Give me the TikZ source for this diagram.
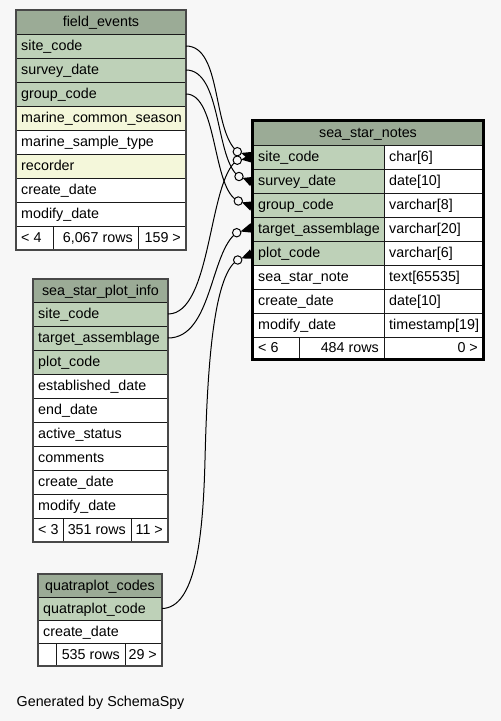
\documentclass[tikz,border=0pt]{standalone}
\usepackage{fontspec}
\setmainfont{Liberation Sans}
\usetikzlibrary{calc}
\definecolor{bg}{HTML}{F7F7F7}
\definecolor{hdr}{HTML}{9BAB96}
\definecolor{pk}{HTML}{BED1B8}
\definecolor{idx}{HTML}{F4F7DA}
\definecolor{grid}{HTML}{1A1A1A}
\tikzset{
  cellbox/.style={draw=grid, line width=0.9pt, rectangle, anchor=north west, inner sep=0pt, outer sep=0pt},
  celltext/.style={inner xsep=5pt, inner ysep=0pt, text height=11pt, text depth=2pt, font=\fontsize{14.3}{16}\selectfont},
  tblborder/.style={draw=grid!80, line width=1.3pt},
  thickborder/.style={draw=black, line width=3pt},
  edge/.style={draw=black, line width=1pt},
  crowfoot/.style={fill=black},
  odotc/.style={draw=black, line width=1pt, fill=bg},
}
\newcommand{\mkL}[7]{\node[cellbox,fill=#6,minimum width=#4pt,minimum height=#5pt] (#1) at (#2,#3) {};\node[celltext,anchor=west] (#1t) at (#1.west) {#7};}
\newcommand{\mkR}[7]{\node[cellbox,fill=#6,minimum width=#4pt,minimum height=#5pt] (#1) at (#2,#3) {};\node[celltext,anchor=east] (#1t) at (#1.east) {#7};}
\newcommand{\mkC}[7]{\node[cellbox,fill=#6,minimum width=#4pt,minimum height=#5pt] (#1) at (#2,#3) {};\node[celltext] (#1t) at (#1.center) {#7};}
\begin{document}
\begin{tikzpicture}[x=1pt,y=-1pt]
\useasboundingbox[fill=bg] (0,0) rectangle (501,721);

% ---------- field_events ----------
\mkC{feh}{16}{10}{170}{24}{hdr}{field\_events}
\mkL{fesite}{16}{34}{170}{24}{pk}{site\_code}
\mkL{fesurvey}{16}{58}{170}{24}{pk}{survey\_date}
\mkL{fegroup}{16}{82}{170}{24}{pk}{group\_code}
\mkL{feseason}{16}{106}{170}{24}{idx}{marine\_common\_season}
\mkL{fetype}{16}{130}{170}{24}{white}{marine\_sample\_type}
\mkL{ferec}{16}{154}{170}{24}{idx}{recorder}
\mkL{fecreate}{16}{178}{170}{24}{white}{create\_date}
\mkL{femodify}{16}{202}{170}{24}{white}{modify\_date}
\mkL{fef1}{16}{226}{37}{24}{white}{< 4}
\mkR{fef2}{53}{226}{85}{24}{white}{6,067 rows}
\mkR{fef3}{138}{226}{48}{24}{white}{159 >}
\draw[tblborder] (feh.north west) rectangle (fef3.south east);

% ---------- sea_star_notes ----------
\mkC{ssnh}{253}{121}{230}{24}{hdr}{sea\_star\_notes}
\mkL{ssnsite}{253}{145}{131}{24}{pk}{site\_code}
\mkL{ssnsitet}{384}{145}{99}{24}{white}{char[6]}
\mkL{ssnsurvey}{253}{169}{131}{24}{pk}{survey\_date}
\mkL{ssnsurveyt}{384}{169}{99}{24}{white}{date[10]}
\mkL{ssngroup}{253}{193}{131}{24}{pk}{group\_code}
\mkL{ssngroupt}{384}{193}{99}{24}{white}{varchar[8]}
\mkL{ssntarget}{253}{217}{131}{24}{pk}{target\_assemblage}
\mkL{ssntargett}{384}{217}{99}{24}{white}{varchar[20]}
\mkL{ssnplot}{253}{241}{131}{24}{pk}{plot\_code}
\mkL{ssnplott}{384}{241}{99}{24}{white}{varchar[6]}
\mkL{ssnnote}{253}{265}{131}{24}{white}{sea\_star\_note}
\mkL{ssnnotet}{384}{265}{99}{24}{white}{text[65535]}
\mkL{ssncreate}{253}{289}{131}{24}{white}{create\_date}
\mkL{ssncreatet}{384}{289}{99}{24}{white}{date[10]}
\mkL{ssnmodify}{253}{313}{131}{24}{white}{modify\_date}
\mkL{ssnmodifyt}{384}{313}{99}{24}{white}{timestamp[19]}
\mkL{ssnf1}{253}{337}{46}{22}{white}{< 6}
\mkR{ssnf2}{299}{337}{85}{22}{white}{484 rows}
\mkR{ssnf3}{384}{337}{99}{22}{white}{0 >}
\draw[thickborder] (252.5,120.8) rectangle (483.5,359.2);

% ---------- sea_star_plot_info ----------
\mkC{spih}{33}{279}{135}{23}{hdr}{sea\_star\_plot\_info}
\mkL{spisite}{33}{302}{135}{24}{pk}{site\_code}
\mkL{spitarget}{33}{326}{135}{24}{pk}{target\_assemblage}
\mkL{spiplot}{33}{350}{135}{24}{pk}{plot\_code}
\mkL{spiest}{33}{374}{135}{24}{white}{established\_date}
\mkL{spiend}{33}{398}{135}{24}{white}{end\_date}
\mkL{spiactive}{33}{422}{135}{24}{white}{active\_status}
\mkL{spicomm}{33}{446}{135}{24}{white}{comments}
\mkL{spicreate}{33}{470}{135}{24}{white}{create\_date}
\mkL{spimodify}{33}{494}{135}{24}{white}{modify\_date}
\mkL{spif1}{33}{518}{30}{24}{white}{< 3}
\mkR{spif2}{63}{518}{68}{24}{white}{351 rows}
\mkR{spif3}{131}{518}{37}{24}{white}{11 >}
\draw[tblborder] (spih.north west) rectangle (spif3.south east);

% ---------- quatraplot_codes ----------
\mkC{qch}{38}{574}{124}{23}{hdr}{quatraplot\_codes}
\mkL{qccode}{38}{597}{124}{23}{pk}{quatraplot\_code}
\mkL{qccreate}{38}{620}{124}{23}{white}{create\_date}
\mkL{qcf1}{38}{643}{18}{23}{white}{}
\mkR{qcf2}{56}{643}{69}{23}{white}{535 rows}
\mkR{qcf3}{125}{643}{37}{23}{white}{29 >}
\draw[tblborder] (qch.north west) rectangle (qcf3.south east);

% ---------- footer text ----------
\node[celltext, anchor=base west, inner xsep=0pt] (gen) at (16.5,706.5) {Generated by SchemaSpy};

% ---------- connectors ----------
\coordinate (c1) at (237.3,151.7); \coordinate (e1) at (252,156.5);
\coordinate (c2) at (237.3,160.2); \coordinate (e2) at (252,158);
\coordinate (c3) at (239,176.5);   \coordinate (e3) at (252,181.5);
\coordinate (c4) at (238.3,201);   \coordinate (e4) at (252,206);
\coordinate (c5) at (236.7,232.7); \coordinate (e5) at (252,228);
\coordinate (c6) at (237.7,260);   \coordinate (e6) at (252,254);
\coordinate (qmid) at (205,460);

\draw[edge] (fesite.east) .. controls (222,46) and (212,130) .. (c1);
\draw[edge] (fesurvey.east) .. controls (222,70) and (215,160) .. (c3);
\draw[edge] (fegroup.east) .. controls (218,94) and (212,190) .. (c4);
\draw[edge] (spisite.east) .. controls (212,314) and (208,180) .. (c2);
\draw[edge] (spitarget.east) .. controls (212,338) and (210,252) .. (c5);
\draw[edge] (qccode.east) .. controls (195,608) and (203,540) .. (qmid) .. controls (207,380) and (212,275) .. (c6);

\foreach \i in {1,...,6}{
  \fill[crowfoot] ($(c\i)!4pt!(e\i)$) -- ($(e\i)!5pt!90:(c\i)$) -- ($(e\i)!5pt!-90:(c\i)$) -- cycle;
  \draw[odotc] (c\i) circle (4.2pt);
}
\end{tikzpicture}
\end{document}
